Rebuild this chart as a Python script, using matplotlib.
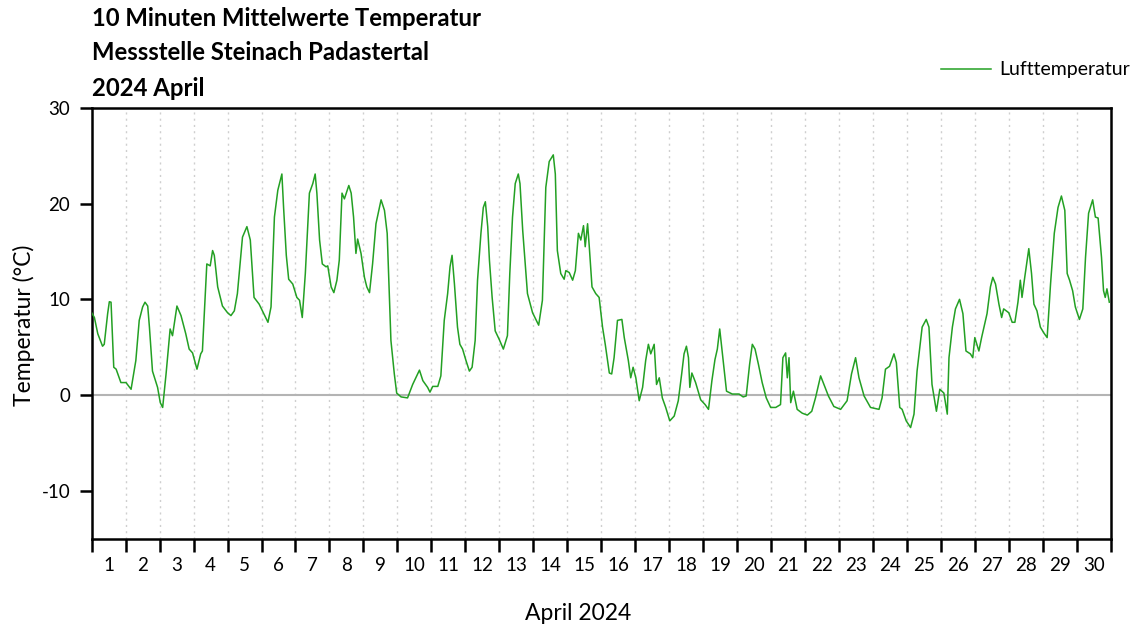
import numpy as np
import matplotlib
matplotlib.use('Agg')
import matplotlib.pyplot as plt

# time in days since 1 April 00:00, air temperature in degC
t_days = [
    0.00, 0.08, 0.18, 0.32, 0.37, 0.47, 0.52, 0.57, 0.65, 0.72, 0.86,
    1.01, 1.16, 1.30, 1.40, 1.50, 1.57, 1.65, 1.70, 1.79, 1.94,
    2.02, 2.09, 2.19, 2.31, 2.38, 2.51, 2.63, 2.77, 2.87, 2.97,
    3.10, 3.21, 3.26, 3.39, 3.49, 3.56, 3.61, 3.71, 3.85,
    4.00, 4.10, 4.20, 4.29, 4.44, 4.57, 4.67, 4.78, 4.93,
    5.19, 5.28, 5.38, 5.48, 5.60, 5.65, 5.73, 5.80, 5.92,
    6.04, 6.12, 6.20, 6.29, 6.41, 6.51, 6.58, 6.63, 6.71, 6.79, 6.90, 6.95,
    7.05, 7.13, 7.22, 7.29, 7.37, 7.44, 7.57, 7.64, 7.71, 7.78, 7.83, 7.93,
    8.03, 8.10, 8.18, 8.27, 8.37, 8.52, 8.62, 8.70, 8.81, 8.91, 8.98,
    9.11, 9.30, 9.45, 9.65, 9.75, 9.89, 9.96,
    10.04, 10.19, 10.28, 10.38, 10.48, 10.55, 10.61, 10.68, 10.77, 10.84, 10.92,
    11.02, 11.12, 11.20, 11.29, 11.36, 11.46, 11.53, 11.59, 11.66, 11.71, 11.79, 11.88,
    12.00, 12.12, 12.24, 12.31, 12.39, 12.47, 12.56, 12.61, 12.69, 12.83, 12.98,
    13.16, 13.27, 13.37, 13.47, 13.59, 13.65, 13.71, 13.81, 13.91, 13.96,
    14.06, 14.16, 14.24, 14.33, 14.40, 14.48, 14.53, 14.60, 14.65, 14.73, 14.84, 14.94,
    15.04, 15.12, 15.24, 15.31, 15.38, 15.48, 15.61, 15.68, 15.80, 15.87, 15.94,
    16.02, 16.12, 16.22, 16.31, 16.39, 16.46, 16.56, 16.63, 16.71, 16.80, 16.90,
    17.02, 17.15, 17.27, 17.37, 17.44, 17.51, 17.57, 17.61, 17.67, 17.78, 17.93,
    18.06, 18.16, 18.26, 18.35, 18.42, 18.49, 18.57, 18.69, 18.86,
    19.06, 19.18, 19.27, 19.37, 19.45, 19.53, 19.63, 19.74, 19.86, 19.99,
    20.14, 20.28, 20.35, 20.43, 20.48, 20.53, 20.58, 20.66, 20.77, 20.92,
    21.07, 21.20, 21.31, 21.46, 21.56, 21.69, 21.85,
    22.05, 22.24, 22.37, 22.49, 22.59, 22.74, 22.93,
    23.18, 23.27, 23.37, 23.49, 23.62, 23.69, 23.79, 23.86, 23.98,
    24.11, 24.21, 24.30, 24.45, 24.57, 24.65, 24.74, 24.87, 24.97,
    25.09, 25.19, 25.24, 25.34, 25.43, 25.55, 25.65, 25.74, 25.87, 25.94,
    26.00, 26.12, 26.20, 26.36, 26.46, 26.53, 26.61, 26.71, 26.79, 26.85,
    27.00, 27.10, 27.18, 27.27, 27.34, 27.39, 27.47, 27.59, 27.67, 27.74, 27.83, 27.93,
    28.03, 28.13, 28.23, 28.34, 28.45, 28.55, 28.65, 28.72, 28.79, 28.88, 28.96,
    29.08, 29.18, 29.26, 29.35, 29.47, 29.55, 29.63, 29.73, 29.79, 29.84, 29.89, 29.96,
]
temp = [
    8.6, 8.1, 6.4, 5.1, 5.3, 8.5, 9.75, 9.7, 2.9, 2.7, 1.3,
    1.3, 0.6, 3.6, 7.8, 9.2, 9.7, 9.3, 7.1, 2.5, 0.8,
    -0.8, -1.3, 2.2, 6.9, 6.2, 9.3, 8.3, 6.4, 4.8, 4.4,
    2.7, 4.3, 4.6, 13.7, 13.5, 15.1, 14.6, 11.3, 9.3,
    8.6, 8.3, 8.8, 10.6, 16.5, 17.6, 16.2, 10.2, 9.5,
    7.6, 9.2, 18.6, 21.4, 23.1, 19.6, 14.6, 12.1, 11.6,
    10.2, 9.9, 8.1, 12.7, 21.1, 22.1, 23.1, 21.1, 16.2, 13.7, 13.4, 13.5,
    11.3, 10.7, 12.0, 14.1, 21.1, 20.5, 21.9, 21.1, 18.6, 14.8, 16.3, 14.8,
    12.3, 11.3, 10.7, 13.7, 17.9, 20.4, 19.3, 16.9, 5.7, 2.2, 0.2,
    -0.2, -0.3, 1.1, 2.6, 1.5, 0.8, 0.3,
    0.9, 0.9, 2.0, 7.8, 10.6, 13.4, 14.6, 11.6, 7.1, 5.3, 4.8,
    3.6, 2.5, 2.9, 5.7, 12.0, 16.9, 19.6, 20.2, 17.6, 14.1, 10.2, 6.7,
    5.8, 4.8, 6.2, 12.7, 18.6, 22.1, 23.1, 22.1, 17.2, 10.6, 8.6,
    7.3, 9.9, 21.7, 24.4, 25.1, 23.1, 15.1, 12.7, 12.1, 13.0,
    12.8, 12.0, 13.0, 16.9, 16.2, 17.7, 15.5, 17.9, 15.5, 11.3, 10.6, 10.2,
    7.1, 5.3, 2.3, 2.2, 3.9, 7.8, 7.9, 6.0, 3.6, 1.8, 2.9,
    1.8, -0.6, 0.8, 3.6, 5.3, 4.3, 5.3, 1.1, 1.8, -0.3, -1.3,
    -2.7, -2.2, -0.6, 2.2, 4.3, 5.1, 3.9, 0.8, 2.3, 1.3, -0.5,
    -1.0, -1.5, 1.5, 3.7, 4.8, 6.9, 4.3, 0.4, 0.1,
    0.1, -0.2, -0.1, 3.2, 5.3, 4.8, 3.2, 1.3, -0.3, -1.3,
    -1.3, -1.0, 3.9, 4.4, 1.8, 3.9, -0.8, 0.4, -1.5, -1.9,
    -2.1, -1.7, -0.3, 2.0, 1.1, -0.1, -1.2,
    -1.5, -0.6, 2.2, 3.9, 1.8, -0.1, -1.3,
    -1.5, -0.3, 2.7, 3.0, 4.3, 3.4, -1.3, -1.5, -2.7,
    -3.4, -2.0, 2.5, 7.1, 7.9, 7.1, 1.1, -1.7, 0.6,
    0.2, -2.0, 3.9, 7.1, 9.0, 10.0, 8.5, 4.6, 4.3, 3.9,
    6.0, 4.6, 6.0, 8.5, 11.3, 12.3, 11.6, 9.5, 8.1, 9.0,
    8.6, 7.6, 7.6, 9.7, 12.0, 10.2, 12.3, 15.3, 12.7, 9.5, 8.8, 7.1,
    6.5, 6.0, 11.6, 16.9, 19.6, 20.8, 19.3, 12.7, 12.0, 10.9, 9.2,
    7.9, 9.0, 14.4, 19.0, 20.4, 18.6, 18.5, 14.4, 10.9, 10.2, 11.1, 9.7,
]

day_labels = [str(d) for d in range(1, 31)]
title_lines = ['10 Minuten Mittelwerte Temperatur',
               'Messstelle Steinach Padastertal',
               '2024 April']

plt.rcParams['font.family'] = ['Lato', 'DejaVu Sans']
plt.rcParams['font.size'] = 13
plt.rcParams['axes.unicode_minus'] = False

W, H = 1136, 630
fig = plt.figure(figsize=(W / 100, H / 100), dpi=100)
ax = fig.add_axes([0.0807, 0.1452, 0.8970, 0.6834])

ax.plot(t_days, temp, color='#23a023', linewidth=1.1, label='Lufttemperatur', zorder=3)
ax.axhline(0, color='#b4b4b4', linewidth=1.5, zorder=2)

ax.set_xlim(0, 30)
ax.set_ylim(-15, 30)

# day boundaries carry the ticks, the day numbers sit in between
ax.set_xticks(np.arange(0, 31))
ax.set_xticks(np.arange(30) + 0.5, minor=True)
ax.set_xticklabels([])
ax.set_xticklabels(day_labels, minor=True)
ax.tick_params(axis='x', which='major', length=9, width=1.8, direction='out')
ax.tick_params(axis='x', which='minor', length=0, pad=13, labelsize=13.5)
ax.set_yticks([-10, 0, 10, 20, 30])
ax.tick_params(axis='y', length=9, width=1.8, direction='out', pad=6.5, labelsize=13.5)

for d in range(1, 30):
    ax.axvline(d, color='#cfcfcf', linewidth=1.0, linestyle=(0, (1.5, 3)), zorder=1)

for s in ax.spines.values():
    s.set_linewidth(1.8)

fig.text(578 / W, 1 - 620 / H, 'April 2024', fontsize=16.5, ha='center', va='baseline')
fig.text(24 / W, 1 - 325 / H, 'Temperatur (°C)', fontsize=16.5, rotation=90,
         ha='center', va='center')

for line, yb in zip(title_lines, [26.5, 60.5, 96.5]):
    fig.text(92 / W, 1 - yb / H, line, fontsize=17.2, fontweight='bold',
             ha='left', va='baseline')

ax.legend(loc='center right', bbox_to_anchor=(1130 / W, 1 - 70 / H),
          bbox_transform=fig.transFigure, frameon=False, fontsize=14,
          handlelength=2.6, handletextpad=0.4, borderpad=0, borderaxespad=0)

fig.savefig('out.png', dpi=100)
